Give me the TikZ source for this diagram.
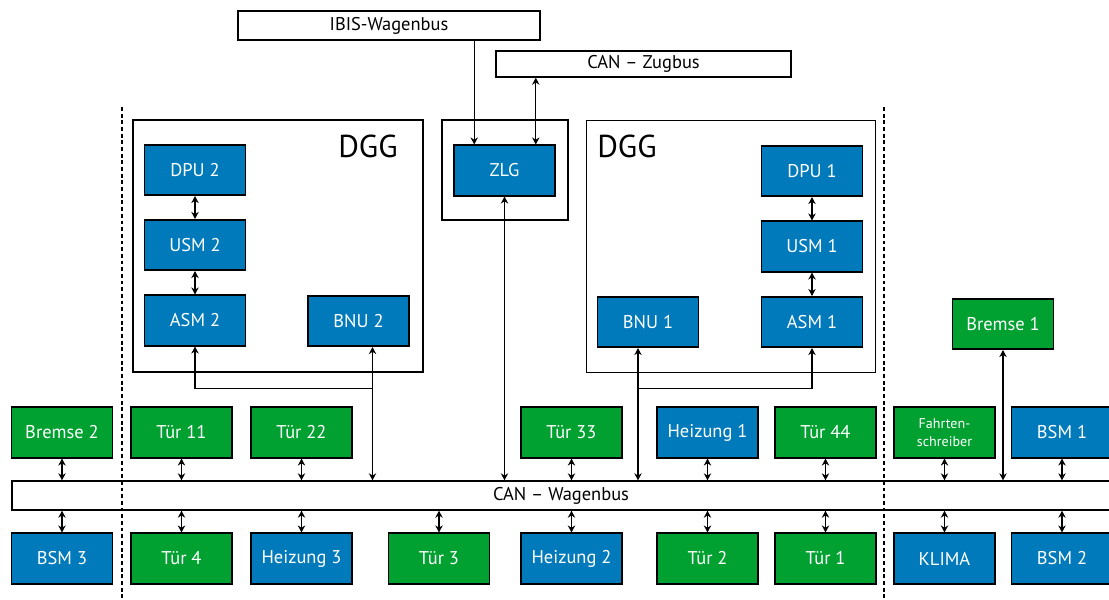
\documentclass[tikz,border=0pt]{standalone}
\usepackage{fontspec}
\setmainfont{PT Sans}
\usetikzlibrary{arrows.meta,calc}

\definecolor{unitblue}{RGB}{0,122,187}
\definecolor{unitgreen}{RGB}{0,161,48}

\begin{document}
\begin{tikzpicture}[x=0.02cm,y=-0.02cm,
  unit/.style={draw,line width=0.9pt,minimum width=2.02cm,minimum height=1.01cm,inner sep=0pt,text=white,font=\fontsize{10.5}{12}\selectfont},
  bluebox/.style={unit,fill=unitblue},
  greenbox/.style={unit,fill=unitgreen},
  busbox/.style={draw,line width=0.8pt,inner sep=0pt,font=\fontsize{10.5}{12}\selectfont},
  housing/.style={draw,line width=0.9pt,inner sep=0pt},
  link/.style={line width=0.6pt,{Stealth[length=4pt,width=4.2pt]}-{Stealth[length=4pt,width=4.2pt]}},
  feed/.style={line width=0.6pt,-{Stealth[length=4pt,width=4.2pt]}},
  border/.style={line width=0.75pt,dash pattern=on 2.2pt off 1.6pt}]
\useasboundingbox (0,0) rectangle (1109,599);

\node[busbox,minimum width=6.04cm,minimum height=0.58cm] (ibis) at (389,25.5) {IBIS-Wagenbus};
\node[busbox,minimum width=5.9cm,minimum height=0.52cm] (canzug) at (643.5,64) {CAN -- Zugbus};

\draw[border] (122,107) -- (122,599);
\draw[border] (884,107) -- (884,599);

\node[housing,minimum width=5.8cm,minimum height=5.04cm] (dggL) at (278,246) {};
\node[font=\fontsize{18}{20}\selectfont] (dggLname) at (368,146) {DGG};
\node[bluebox] (dpu2) at (195,170) {DPU 2};
\node[bluebox] (usm2) at (195,245) {USM 2};
\node[bluebox] (asm2) at (195,320.5) {ASM 2};
\node[bluebox] (bnu2) at (358.5,321) {BNU 2};

\node[housing,minimum width=2.52cm,minimum height=2cm] (zlgbox) at (505,170) {};
\node[bluebox] (zlg) at (504.5,170.5) {ZLG};

\node[housing,minimum width=5.78cm,minimum height=5.04cm] (dggR) at (731,246.5) {};
\node[font=\fontsize{18}{20}\selectfont] (dggRname) at (627,146) {DGG};
\node[bluebox] (dpu1) at (812,171) {DPU 1};
\node[bluebox] (usm1) at (812,246.5) {USM 1};
\node[bluebox] (asm1) at (812,322) {ASM 1};
\node[bluebox] (bnu1) at (648,322) {BNU 1};

\node[greenbox] (bremse1) at (1003,324) {Bremse 1};

\node[busbox,minimum width=21.96cm,minimum height=0.58cm] (canwag) at (561,495.5) {CAN -- Wagenbus};

\node[greenbox] (bremse2) at (62,432.5) {Bremse 2};
\node[greenbox] (tuer11) at (181.5,432.5) {Tür 11};
\node[greenbox] (tuer22) at (301.5,432.5) {Tür 22};
\node[greenbox] (tuer33) at (571.5,432.5) {Tür 33};
\node[bluebox] (heizung1) at (707.5,432.5) {Heizung 1};
\node[greenbox] (tuer44) at (825.5,432.5) {Tür 44};
\node[greenbox,align=center,font=\fontsize{8}{10}\selectfont] (fahrt) at (944.5,432.5) {Fahrten-\\schreiber};
\node[bluebox] (bsm1) at (1062,432.5) {BSM 1};

\node[bluebox] (bsm3) at (62,558.5) {BSM 3};
\node[greenbox] (tuer4) at (181.5,558.5) {Tür 4};
\node[bluebox] (heizung3) at (301.5,558.5) {Heizung 3};
\node[greenbox] (tuer3) at (439,558.5) {Tür 3};
\node[bluebox] (heizung2) at (571.5,558.5) {Heizung 2};
\node[greenbox] (tuer2) at (707.5,558.5) {Tür 2};
\node[greenbox] (tuer1) at (825.5,558.5) {Tür 1};
\node[bluebox] (klima) at (944.5,558.5) {KLIMA};
\node[bluebox] (bsm2) at (1062,558.5) {BSM 2};

\coordinate (zlgIn) at ($(zlg.north west)+(21,0)$);
\coordinate (zlgTrain) at ($(zlg.north east)+(-20,0)$);
\draw[feed] (ibis.south -| zlgIn) -- (zlgIn);
\draw[link] (canzug.south -| zlgTrain) -- (zlgTrain);
\draw[link] (zlg.south) -- (zlg.south |- canwag.north);

\draw[link] (dpu2) -- (usm2);
\draw[link] (usm2) -- (asm2);
\draw[link] (dpu1) -- (usm1);
\draw[link] (usm1) -- (asm1);

\coordinate (bnu2port) at ($(bnu2.south)+(14,0)$);
\coordinate (bnu1port) at ($(bnu1.south)+(-10,0)$);
\path (dggL.south) ++(0,16) coordinate (joinL);
\path (dggR.south) ++(0,15) coordinate (joinR);
\draw[link] (bnu2port) -- (bnu2port |- canwag.north);
\draw[feed] (bnu2port |- joinL) -| (asm2.south);
\draw[link] (bnu1port) -- (bnu1port |- canwag.north);
\draw[feed] (bnu1port |- joinR) -| (asm1.south);
\draw[link] (bremse1.south) -- (bremse1.south |- canwag.north);

\draw[link] (bremse2.south) -- (bremse2.south |- canwag.north);
\draw[link] (tuer11.south) -- (tuer11.south |- canwag.north);
\draw[link] (tuer22.south) -- (tuer22.south |- canwag.north);
\draw[link] (tuer33.south) -- (tuer33.south |- canwag.north);
\draw[link] (heizung1.south) -- (heizung1.south |- canwag.north);
\draw[link] (tuer44.south) -- (tuer44.south |- canwag.north);
\draw[link] (fahrt.south) -- (fahrt.south |- canwag.north);
\draw[link] (bsm1.south) -- (bsm1.south |- canwag.north);

\draw[link] (bsm3.north) -- (bsm3.north |- canwag.south);
\draw[link] (tuer4.north) -- (tuer4.north |- canwag.south);
\draw[link] (heizung3.north) -- (heizung3.north |- canwag.south);
\draw[link] (tuer3.north) -- (tuer3.north |- canwag.south);
\draw[link] (heizung2.north) -- (heizung2.north |- canwag.south);
\draw[link] (tuer2.north) -- (tuer2.north |- canwag.south);
\draw[link] (tuer1.north) -- (tuer1.north |- canwag.south);
\draw[link] (klima.north) -- (klima.north |- canwag.south);
\draw[link] (bsm2.north) -- (bsm2.north |- canwag.south);
\end{tikzpicture}
\end{document}
